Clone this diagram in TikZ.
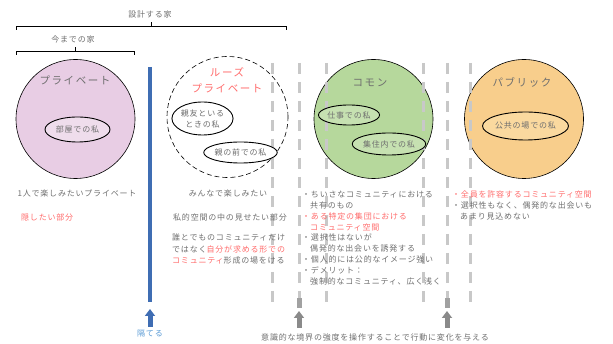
\documentclass[tikz,border=0pt]{standalone}
\usepackage{fontspec}
\newfontfamily\jp[LetterSpace=10]{Noto Sans CJK JP}
\newfontfamily\jpt[LetterSpace=15]{Noto Sans CJK JP}
\usetikzlibrary{arrows.meta,shapes.geometric}
\definecolor{pinkf}{HTML}{E8CDE4}
\definecolor{pinki}{HTML}{EFDDEC}
\definecolor{greenf}{HTML}{B6D89C}
\definecolor{greeni}{HTML}{C6E1B1}
\definecolor{orangef}{HTML}{F8CE8C}
\definecolor{orangei}{HTML}{FAD99F}
\definecolor{txtgray}{HTML}{6E6E6E}
\definecolor{txtred}{HTML}{FF6B6B}
\definecolor{barblue}{HTML}{3F6DB3}
\definecolor{lblblue}{HTML}{5B9BD5}
\definecolor{dashgray}{HTML}{C8C8C8}
\definecolor{arrgray}{HTML}{8A8A8A}
\tikzset{
  txt/.style={font=\jp\fontsize{8}{10.8}\selectfont, text=txtgray, inner sep=0pt},
  ttl/.style={font=\jpt\fontsize{10.5}{16}\selectfont, text=txtgray, inner sep=0pt},
  bigcirc/.style={circle, draw=black, line width=0.6pt, minimum size=119pt, inner sep=0pt},
  inell/.style={ellipse, draw=black, line width=0.9pt, inner sep=0pt, font=\jp\fontsize{8}{10.8}\selectfont, text=txtgray, align=center},
  dashline/.style={draw=dashgray, line width=3pt, dash pattern=on 11pt off 8pt},
  bracketline/.style={draw=black, line width=0.8pt},
  upgray/.style={draw=arrgray, line width=5pt, -{Triangle[width=10pt,length=7pt]}},
  upblue/.style={draw=barblue, line width=5pt, -{Triangle[width=10pt,length=7pt]}},
}
\newcommand{\rd}[1]{\textcolor{txtred}{#1}}
\begin{document}
\begin{tikzpicture}[x=1pt,y=-1pt]
\useasboundingbox (0,0) rectangle (613,344);
% brackets
\node[txt] (sekkei) at (150,14) {設計する家};
\draw[bracketline] (16,30) -- (16,26.5) -- (286,26.5) -- (286,30);
\draw[bracketline] (151,26.5) -- (151,22);
\node[txt] (imamade) at (73,39) {今までの家};
\draw[bracketline] (16,55) -- (16,51.5) -- (134,51.5) -- (134,55);
\draw[bracketline] (75,51.5) -- (75,47);
% circles
\node[bigcirc, fill=pinkf] (priv) at (75.5,119) {};
\node[bigcirc, draw=black, dashed, dash pattern=on 5pt off 3pt, fill=white, minimum size=121pt] (loose) at (227.5,117) {};
\node[bigcirc, fill=greenf] (common) at (373.5,119) {};
\node[bigcirc, fill=orangef] (public) at (524,119) {};
% dashed lines (over the circles)
\foreach \x in {272,299,326,423,447,470}{
  \draw[dashline] (\x,63) -- (\x,302);
}
\draw[draw=arrgray!80, line width=5pt] (299,298) -- (299,308);
\draw[draw=arrgray!80, line width=5pt] (447,298) -- (447,308);
% titles
\node[ttl] (tpriv) at (75,80) {プライベート};
\node[ttl, text=txtred, align=center, font=\jpt\fontsize{10.5}{16}\selectfont] (tloose) at (227,80) {ルーズ\\プライベート};
\node[ttl] (tcommon) at (370,83) {コモン};
\node[ttl] (tpublic) at (522,82) {パブリック};
% inner ellipses
\node[inell, fill=pinki, minimum width=65pt, minimum height=25pt] (e1) at (77.5,129.5) {部屋での私};
\node[inell, fill=white, minimum width=61pt, minimum height=33pt, font=\jp\fontsize{8}{11}\selectfont] (e2) at (202.5,118.5) {親友といる\\ときの私};
\node[inell, fill=white, minimum width=59pt, minimum height=21pt] (e3) at (240.5,152.5) {親の前での私};
\node[inell, fill=greeni, minimum width=54pt, minimum height=20pt] (e4) at (349,115) {仕事での私};
\node[inell, fill=greeni, minimum width=64pt, minimum height=22pt] (e5) at (389,144) {集住内での私};
\node[inell, fill=orangei, minimum width=75pt, minimum height=28pt] (e6) at (525.5,126) {公共の場での私};
% blue bar
\coordinate (bartop) at (150,67);
\coordinate (barbot) at (150,302);
\draw[draw=barblue, line width=4pt] (bartop) -- (barbot);
\coordinate (ba1) at (150,327);
\coordinate (ba2) at (150,309);
\draw[upblue] (ba1) -- (ba2);
\node[txt, text=lblblue] (hedateru) at (150,334) {隔てる};
% gray arrows
\coordinate (ga1) at (299,328);
\coordinate (ga2) at (299,311);
\draw[upgray] (ga1) -- (ga2);
\coordinate (gb1) at (447,328);
\coordinate (gb2) at (447,311);
\draw[upgray] (gb1) -- (gb2);
\node[txt] (bottom) at (375,337) {意識的な境界の強度を操作することで行動に変化を与える};
% texts under private
\node[txt] (p1) at (77,193) {1人で楽しみたいプライベート};
\node[txt, text=txtred, anchor=west] (p2) at (21,217) {隠したい部分};
% texts under loose
\node[txt] (l1) at (228,193) {みんなで楽しみたい};
\node[txt] (l2) at (230,217) {私的空間の中の見せたい部分};
\node[txt, align=left, anchor=north west, font=\jp\fontsize{8}{11.5}\selectfont] (l3) at (172,234) {誰とでものコミュニティだけ\\ではなく\rd{自分が求める形での}\\\rd{コミュニティ}形成の場をける};
% texts under common
\node[txt, align=left, anchor=north west] (c1) at (302,191) {・ちいさなコミュニティにおける\\\phantom{・}共有のもの\\\rd{・ある特定の集団における}\\\phantom{・}\rd{コミュニティ空間}\\・選択性はないが\\\phantom{・}偶発的な出会いを誘発する\\・個人的には公的なイメージ強い\\・デメリット：\\\phantom{・}強制的なコミュニティ、広く浅く};
% texts under public
\node[txt, align=left, anchor=north west] (u1) at (452,191) {\rd{・全員を許容するコミュニティ空間}\\・選択性もなく、偶発的な出会いも\\\phantom{・}あまり見込めない};
\end{tikzpicture}
\end{document}
